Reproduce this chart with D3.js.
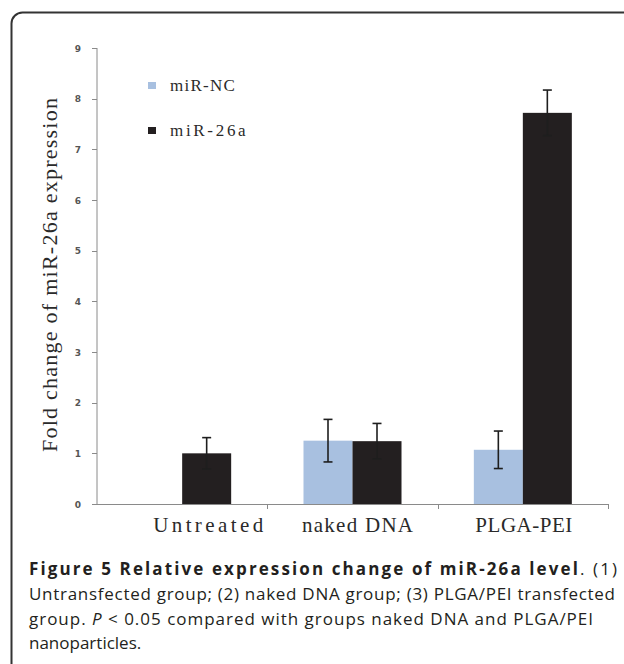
<!DOCTYPE html>
<html lang="en">
<head>
<meta charset="utf-8">
<title>Figure 5 - miR-26a expression</title>
<script type="text/javascript" src="https://cdn.jsdelivr.net/npm/d3@7"></script>
<style>
body {
  margin: 0;
  background-color: #fff;
}

.tick-label {
  font-family: "DejaVu Sans", Verdana, sans-serif;
  font-size: 9px;
  font-weight: bold;
  fill: #555;
}

.serif {
  font-family: "Liberation Serif", "DejaVu Serif", serif;
  fill: #2a2a2a;
}

.caption {
  font-family: "Open Sans", sans-serif;
  font-size: 17px;
  fill: #231f20;
}
</style>
</head>
<body>

<div id="chart"></div>

<script type="text/javascript">

var groups = ["Untreated", "naked DNA", "PLGA-PEI"];
var series = ["miR-NC", "miR-26a"];
var ncValues = [0, 1.25, 1.07];
var ncErrors = [0, 0.42, 0.37];
var mirValues = [1.0, 1.24, 7.72];
var mirErrors = [0.31, 0.35, 0.45];
var yTicks = [0, 1, 2, 3, 4, 5, 6, 7, 8, 9];

var colors = {"miR-NC": "#a8c0e0", "miR-26a": "#231f20"};

var width = 624, height = 664;

var svg = d3.select("#chart").append("svg")
    .attr("width", width)
    .attr("height", height);

// frame, only top and left edges fall inside the picture
svg.append("rect")
    .attr("x", 11.5)
    .attr("y", 12.5)
    .attr("width", 700)
    .attr("height", 700)
    .attr("rx", 11)
    .attr("fill", "none")
    .attr("stroke", "#333")
    .attr("stroke-width", 2);

var plot = {left: 97, right: 608, top: 48, bottom: 504};

var x = d3.scaleBand()
    .domain(groups)
    .range([plot.left, plot.right]);

var y = d3.scaleLinear()
    .domain([0, 9])
    .range([plot.bottom, plot.top]);

var barWidth = 49;

var inner = d3.scaleBand()
    .domain(series)
    .range([-barWidth, barWidth]);

var rows = [];
groups.forEach(function(g, i) {
    rows.push({group: g, key: "miR-NC", value: ncValues[i], error: ncErrors[i]});
    rows.push({group: g, key: "miR-26a", value: mirValues[i], error: mirErrors[i]});
});

function center(d) {
    return x(d.group) + x.bandwidth() / 2;
}

// axes
var axisColor = "#8a8a8a";

svg.append("line")
    .attr("x1", plot.left).attr("x2", plot.left)
    .attr("y1", y(9)).attr("y2", y(0))
    .attr("stroke", axisColor);

svg.append("line")
    .attr("x1", plot.left).attr("x2", plot.right)
    .attr("y1", y(0) + 0.5).attr("y2", y(0) + 0.5)
    .attr("stroke", axisColor);

svg.selectAll(".ytick")
    .data(yTicks)
    .enter().append("line")
        .attr("class", "ytick")
        .attr("x1", plot.left - 5).attr("x2", plot.left)
        .attr("y1", function(d) { return Math.round(y(d)) + 0.5; })
        .attr("y2", function(d) { return Math.round(y(d)) + 0.5; })
        .attr("stroke", axisColor);

svg.selectAll(".tick-label")
    .data(yTicks)
    .enter().append("text")
        .attr("class", "tick-label")
        .attr("x", plot.left - 19)
        .attr("y", function(d) { return y(d) + 3.5; })
        .attr("text-anchor", "middle")
        .text(function(d) { return d; });

var xTickPos = groups.map(function(g) { return x(g) + x.bandwidth(); });

svg.selectAll(".xtick")
    .data(xTickPos)
    .enter().append("line")
        .attr("class", "xtick")
        .attr("x1", function(d) { return Math.round(d) + 0.5; })
        .attr("x2", function(d) { return Math.round(d) + 0.5; })
        .attr("y1", y(0)).attr("y2", y(0) + 5)
        .attr("stroke", axisColor);

// bars
svg.selectAll(".bar")
    .data(rows.filter(function(d) { return d.value > 0; }))
    .enter().append("rect")
        .attr("class", "bar")
        .attr("x", function(d) { return center(d) + inner(d.key); })
        .attr("width", inner.bandwidth())
        .attr("y", function(d) { return y(d.value); })
        .attr("height", function(d) { return y(0) - y(d.value); })
        .attr("fill", function(d) { return colors[d.key]; });

// error bars
var err = svg.selectAll(".err")
    .data(rows.filter(function(d) { return d.error > 0; }))
    .enter().append("g")
        .attr("class", "err")
        .attr("stroke", "#1e1e1e")
        .attr("stroke-width", 1.6);

function ex(d) { return center(d) + inner(d.key) + inner.bandwidth() / 2; }

err.append("line")
    .attr("x1", ex).attr("x2", ex)
    .attr("y1", function(d) { return y(d.value + d.error); })
    .attr("y2", function(d) { return y(d.value - d.error); });

err.append("line")
    .attr("x1", function(d) { return ex(d) - 4.5; })
    .attr("x2", function(d) { return ex(d) + 4.5; })
    .attr("y1", function(d) { return y(d.value + d.error); })
    .attr("y2", function(d) { return y(d.value + d.error); });

err.append("line")
    .attr("x1", function(d) { return ex(d) - 4.5; })
    .attr("x2", function(d) { return ex(d) + 4.5; })
    .attr("y1", function(d) { return y(d.value - d.error); })
    .attr("y2", function(d) { return y(d.value - d.error); });

// category labels (hand placed in the original, slightly off centre)
var labelShift = [26, 5, 1];
var labelLength = [110, 111, 97];

svg.selectAll(".xlabel")
    .data(groups)
    .enter().append("text")
        .attr("class", "xlabel serif")
        .attr("x", function(d, i) { return x(d) + x.bandwidth() / 2 + labelShift[i]; })
        .attr("y", 532)
        .attr("text-anchor", "middle")
        .attr("font-size", 21)
        .attr("textLength", function(d, i) { return labelLength[i]; })
        .attr("lengthAdjust", "spacing")
        .text(function(d) { return d; });

// y title
svg.append("text")
    .attr("class", "serif")
    .attr("transform", "translate(57," + ((98 + 452) / 2) + ") rotate(-90)")
    .attr("text-anchor", "middle")
    .attr("font-size", 22)
    .attr("textLength", 354)
    .attr("lengthAdjust", "spacing")
    .text("Fold change of miR-26a expression");

// legend
var legend = svg.selectAll(".legend")
    .data(series)
    .enter().append("g")
        .attr("class", "legend")
        .attr("transform", function(d, i) { return "translate(148," + (82 + i * 45) + ")"; });

legend.append("rect")
    .attr("width", 8)
    .attr("height", 7)
    .attr("fill", function(d) { return colors[d]; });

legend.append("text")
    .attr("class", "serif")
    .attr("x", 22)
    .attr("y", 9)
    .attr("font-size", 17)
    .attr("textLength", function(d) { return d.length * 10.8; })
    .attr("lengthAdjust", "spacing")
    .text(function(d) { return d; });

// caption
var cap1 = svg.append("text")
    .attr("class", "caption")
    .attr("x", 29)
    .attr("y", 575)
    .attr("textLength", 588)
    .attr("lengthAdjust", "spacing");
cap1.append("tspan")
    .attr("font-weight", "bold")
    .text("Figure 5 Relative expression change of miR-26a level");
cap1.append("tspan")
    .text(". (1)");

svg.append("text")
    .attr("class", "caption")
    .attr("x", 29)
    .attr("y", 600)
    .attr("textLength", 586)
    .attr("lengthAdjust", "spacing")
    .text("Untransfected group; (2) naked DNA group; (3) PLGA/PEI transfected");

var cap3 = svg.append("text")
    .attr("class", "caption")
    .attr("x", 29)
    .attr("y", 624.5)
    .attr("textLength", 564)
    .attr("lengthAdjust", "spacing");
cap3.append("tspan").text("group. ");
cap3.append("tspan").attr("font-style", "italic").text("P");
cap3.append("tspan").text(" < 0.05 compared with groups naked DNA and PLGA/PEI");

svg.append("text")
    .attr("class", "caption")
    .attr("x", 29)
    .attr("y", 649)
    .text("nanoparticles.");

</script>

</body>
</html>
